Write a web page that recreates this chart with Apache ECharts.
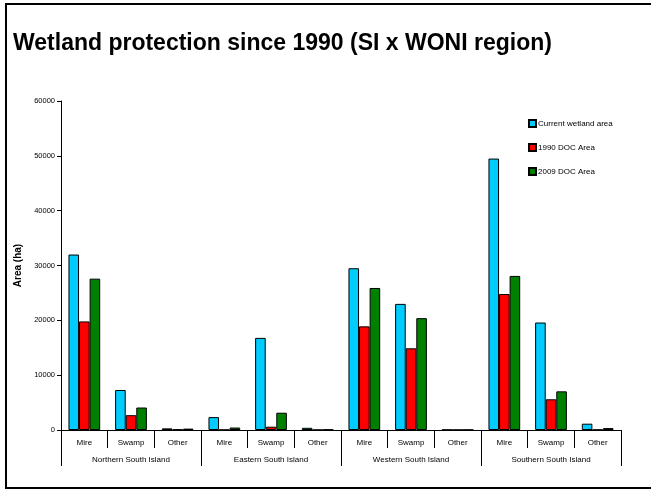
<!DOCTYPE html>
<html>
<head>
<meta charset="utf-8">
<script src="https://cdn.jsdelivr.net/npm/echarts@6/dist/echarts.min.js"></script>
<style>
  html, body { margin: 0; padding: 0; background: #fff; }
  #chart { width: 651px; height: 490px; }
</style>
</head>
<body>
<div id="chart"></div>
<script>
const wetlandTypes = ['Mire', 'Swamp', 'Other', 'Mire', 'Swamp', 'Other', 'Mire', 'Swamp', 'Other', 'Mire', 'Swamp', 'Other'];
const regions = ['Northern South Island', 'Eastern South Island', 'Western South Island', 'Southern South Island'];
const currentArea = [32000, 7300, 300, 2350, 16800, 400, 29500, 23000, 50, 49500, 19600, 1150];
const doc1990 = [19800, 2700, 100, 30, 600, 20, 18900, 14900, 30, 24800, 5600, 50];
const doc2009 = [27600, 4100, 250, 450, 3150, 100, 25900, 20400, 40, 28100, 7050, 350];
const yTicks = [0, 60000, 10000]; // min, max, step

const chart = echarts.init(document.getElementById('chart'));
const font = 'Arial, "Liberation Sans", sans-serif';

const barSeries = (name, data, color) => ({
  name: name,
  type: 'bar',
  xAxisIndex: 0,
  data: data,
  barGap: '0%',
  barCategoryGap: '32%',
  itemStyle: { color: color, borderColor: '#000', borderWidth: 1 }
});

chart.setOption({
  animation: false,
  textStyle: { fontFamily: font },
  title: {
    text: 'Wetland protection since 1990 (SI x WONI region)',
    left: 8,
    top: 27,
    textStyle: { fontSize: 23, fontWeight: 'bold', color: '#000', fontFamily: font }
  },
  graphic: [{
    type: 'rect',
    shape: { x: 6, y: 4, width: 700, height: 484 },
    style: { fill: 'none', stroke: '#000', lineWidth: 2 },
    silent: true
  }],
  legend: {
    orient: 'vertical',
    left: 523,
    top: 114,
    itemWidth: 7,
    itemHeight: 7,
    itemGap: 15,
    textStyle: { fontSize: 8, color: '#000', padding: [0, 0, 0, -3] },
    icon: 'rect',
    data: ['Current wetland area', '1990 DOC Area', '2009 DOC Area']
  },
  grid: { left: 61, right: 30, top: 101, bottom: 60 },
  xAxis: [{
    type: 'category',
    data: wetlandTypes,
    axisLine: { lineStyle: { color: '#000', width: 1 } },
    axisTick: { show: true, interval: 0, length: 18, lineStyle: { color: '#000' } },
    axisLabel: { interval: 0, margin: 9, fontSize: 8, color: '#000' }
  }, {
    type: 'category',
    data: regions,
    position: 'bottom',
    axisLine: { show: false },
    axisTick: { show: true, interval: 0, length: 36, lineStyle: { color: '#000' } },
    axisLabel: { interval: 0, margin: 26, fontSize: 8, color: '#000' }
  }],
  yAxis: {
    type: 'value',
    min: yTicks[0],
    max: yTicks[1],
    interval: yTicks[2],
    name: 'Area (ha)',
    nameLocation: 'middle',
    nameGap: 38,
    nameTextStyle: { fontSize: 10, fontWeight: 'bold', color: '#000' },
    axisLine: { show: true, lineStyle: { color: '#000' } },
    axisTick: { show: true, length: 4, lineStyle: { color: '#000' } },
    axisLabel: { fontSize: 7.5, color: '#000', margin: 6, formatter: v => String(v) },
    splitLine: { show: false }
  },
  series: [
    barSeries('Current wetland area', currentArea, '#00CCFF'),
    barSeries('1990 DOC Area', doc1990, '#FF0000'),
    barSeries('2009 DOC Area', doc2009, '#008000')
  ]
});
</script>
</body>
</html>
